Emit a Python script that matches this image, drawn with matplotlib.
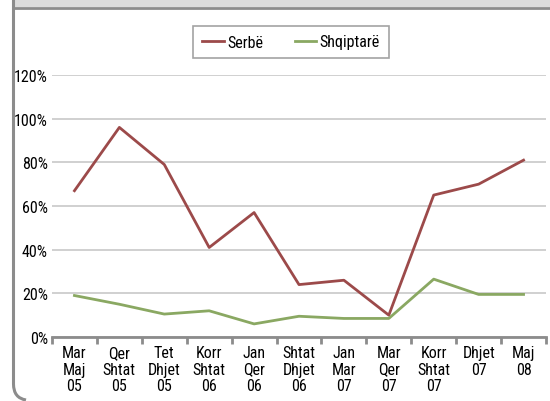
import matplotlib
matplotlib.use("Agg")
import matplotlib.pyplot as plt
from matplotlib.patches import Rectangle, PathPatch
from matplotlib.path import Path
from matplotlib.ticker import FixedLocator, PercentFormatter
import logging
logging.getLogger('matplotlib.font_manager').setLevel(logging.ERROR)

FAM = ['Roboto Condensed', 'Open Sans Condensed', 'Liberation Sans Narrow', 'Liberation Sans', 'DejaVu Sans']
plt.rcParams['font.family'] = FAM

categories = ["Mar\nMaj\n05", "Qer\nShtat\n05", "Tet\nDhjet\n05", "Korr\nShtat\n06",
              "Jan\nQer\n06", "Shtat\nDhjet\n06", "Jan\nMar\n07", "Mar\nQer\n07",
              "Korr\nShtat\n07", "Dhjet\n07", "Maj\n08"]
serbe = [67, 96, 79, 41, 57, 24, 26, 10, 65, 70, 81]
shqiptare = [19, 15, 10.5, 12, 6, 9.5, 8.5, 8.5, 26.5, 19.5, 19.5]
yticks = [0, 20, 40, 60, 80, 100, 120]

FS = 11.5
W, H = 550, 402
fig = plt.figure(figsize=(W / 100, H / 100), dpi=100)
fig.patch.set_facecolor('white')

# decorations: header band, left border with rounded corner
fig.patches.append(Rectangle((15 / W, 1 - 8 / H), 1, 8 / H, transform=fig.transFigure,
                             facecolor='#dcdcdc', edgecolor='none'))
fig.lines.append(plt.Line2D([15 / W, 1], [1 - 9 / H, 1 - 9 / H], transform=fig.transFigure,
                            color='#8c8c8c', lw=2))
verts = [(13.5 / W, 1.0), (13.5 / W, 1 - 385 / H), (13.5 / W, 1 - 399 / H), (26 / W, 1 - 401 / H)]
codes = [Path.MOVETO, Path.LINETO, Path.CURVE3, Path.CURVE3]
fig.patches.append(PathPatch(Path(verts, codes), transform=fig.transFigure,
                             facecolor='none', edgecolor='#8c8c8c', lw=2.2))

ax = fig.add_axes([52 / W, (H - 338) / H, (546 - 52) / W, (338 - 76) / H])
x = list(range(len(categories)))
ax.plot(x, serbe, color='#9c4a4a', lw=2, label='Serbë')
ax.plot(x, shqiptare, color='#8aa862', lw=2, label='Shqiptarë')

ax.set_xlim(-0.5, len(categories) - 0.5)
ax.set_ylim(0, 120)
ax.set_yticks(yticks)
ax.yaxis.set_major_formatter(PercentFormatter(decimals=0))
ax.tick_params(axis='y', length=0, pad=3, labelsize=FS, labelcolor='black')
ax.grid(axis='y', color='#c8c8c8', lw=1.2)
ax.set_axisbelow(True)

ax.set_xticks(x)
ax.set_xticklabels(categories, fontsize=FS, linespacing=1.1)
ax.tick_params(axis='x', which='major', length=0, pad=6)
ax.xaxis.set_minor_locator(FixedLocator([i - 0.5 for i in range(len(categories) + 1)]))
ax.tick_params(axis='x', which='minor', length=5, width=2, color='#8c8c8c')

for s in ['left', 'right', 'top']:
    ax.spines[s].set_visible(False)
ax.spines['bottom'].set_color('#8c8c8c')
ax.spines['bottom'].set_linewidth(2)

leg = ax.legend(loc='center', bbox_to_anchor=(291 / W, 1 - 43 / H), bbox_transform=fig.transFigure,
                ncol=2, frameon=True, fancybox=False, fontsize=FS, handlelength=1.35,
                columnspacing=2.0, handletextpad=0.2, borderpad=0.55, borderaxespad=0)
leg.get_frame().set_edgecolor('#8c8c8c')
leg.get_frame().set_linewidth(1.2)

fig.savefig('out.png', dpi=100, facecolor='white')
